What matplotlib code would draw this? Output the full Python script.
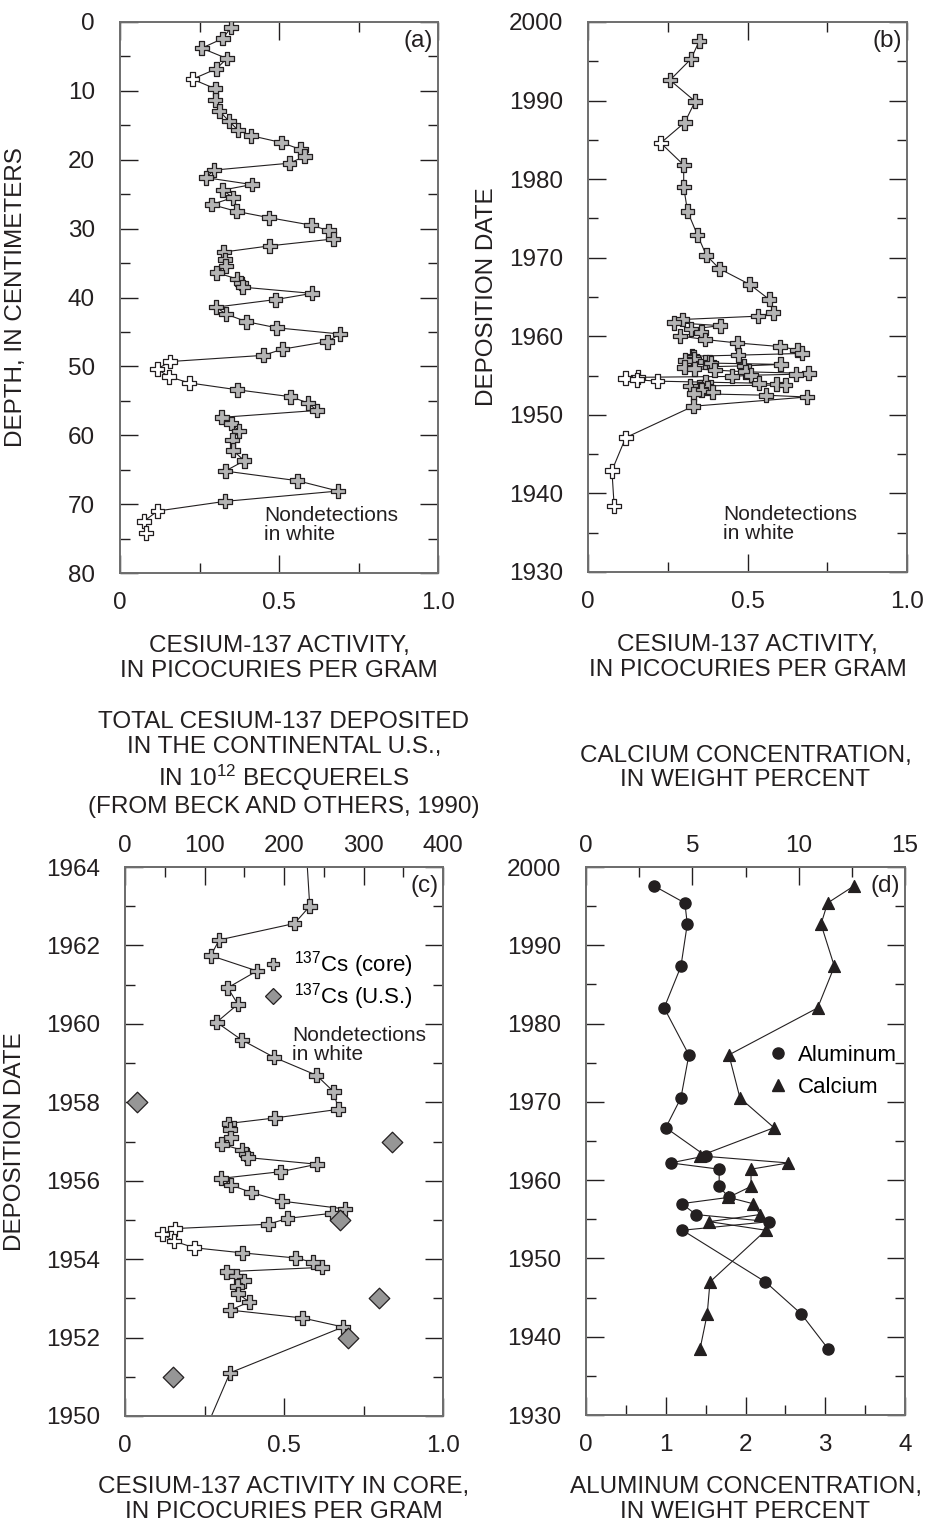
import matplotlib
matplotlib.use('Agg')
import matplotlib.pyplot as plt
from matplotlib.lines import Line2D
from matplotlib.ticker import MultipleLocator
import numpy as np

plt.rcParams['font.family'] = ['Liberation Sans', 'DejaVu Sans']
plt.rcParams['mathtext.fontset'] = 'custom'
plt.rcParams['mathtext.rm'] = 'Liberation Sans'
plt.rcParams['mathtext.it'] = 'Liberation Sans:italic'
plt.rcParams['mathtext.bf'] = 'Liberation Sans:bold'

# ---------------- data ----------------
# Cesium-137 activity in core (pCi/g), one value per sample
cs_activity = [0.349, 0.323, 0.257, 0.336, 0.303, 0.228, 0.300, 0.300, 0.312, 0.343,
               0.371, 0.412, 0.507, 0.568, 0.581, 0.533, 0.296, 0.270, 0.415, 0.323,
               0.355, 0.288, 0.367, 0.468, 0.602, 0.656, 0.671, 0.471, 0.326, 0.330,
               0.332, 0.304, 0.368, 0.381, 0.386, 0.604, 0.489, 0.302, 0.333, 0.397,
               0.493, 0.692, 0.652, 0.511, 0.451, 0.157, 0.117, 0.154, 0.218, 0.369,
               0.536, 0.591, 0.619, 0.320, 0.350, 0.374, 0.353, 0.355, 0.391, 0.331,
               0.558, 0.686, 0.330, 0.118, 0.075, 0.082]
# sample depth (cm)
cs_depth = [0.8, 2.4, 3.8, 5.3, 6.8, 8.3, 9.7, 11.3, 12.9, 14.4,
            15.7, 16.5, 17.5, 18.5, 19.5, 20.5, 21.5, 22.6, 23.6, 24.4,
            25.5, 26.5, 27.5, 28.4, 29.5, 30.3, 31.5, 32.5, 33.4, 34.5,
            35.4, 36.4, 37.3, 37.9, 38.5, 39.4, 40.3, 41.4, 42.4, 43.5,
            44.4, 45.3, 46.4, 47.5, 48.4, 49.3, 50.4, 51.5, 52.4, 53.4,
            54.4, 55.3, 56.4, 57.4, 58.3, 59.4, 60.7, 62.2, 63.7, 65.2,
            66.6, 68.1, 69.6, 71.0, 72.5, 74.2]
# sample deposition date (year)
cs_date = [1997.6, 1995.3, 1992.6, 1989.9, 1987.2, 1984.6, 1981.8, 1979.0, 1975.9, 1972.9,
           1970.3, 1968.6, 1966.6, 1964.7, 1963.0, 1962.56, 1962.14, 1961.74, 1961.35, 1960.92,
           1960.50, 1960.04, 1959.59, 1959.15, 1958.69, 1958.27, 1957.82, 1957.60, 1957.46, 1957.31,
           1957.10, 1956.93, 1956.78, 1956.68, 1956.59, 1956.42, 1956.23, 1956.06, 1955.89, 1955.70,
           1955.48, 1955.28, 1955.17, 1955.04, 1954.89, 1954.78, 1954.64, 1954.46, 1954.29, 1954.16,
           1954.03, 1953.92, 1953.79, 1953.68, 1953.57, 1953.45, 1953.31, 1953.12, 1952.91, 1952.70,
           1952.50, 1952.27, 1951.10, 1947.1, 1942.9, 1938.4]
# nondetection flags (1 = nondetection, drawn white)
cs_nondetect = [0, 0, 0, 0, 0, 1, 0, 0, 0, 0,
                0, 0, 0, 0, 0, 0, 0, 0, 0, 0,
                0, 0, 0, 0, 0, 0, 0, 0, 0, 0,
                0, 0, 0, 0, 0, 0, 0, 0, 0, 0,
                0, 0, 0, 0, 0, 1, 1, 1, 1, 0,
                0, 0, 0, 0, 0, 0, 0, 0, 0, 0,
                0, 0, 0, 1, 1, 1]

# Total Cs-137 deposited in continental U.S. (10^12 Bq), Beck and others, 1990
us_year = [1951, 1952, 1953, 1955, 1957, 1958]
us_deposit = [60, 280, 319, 270, 336, 15]

# Aluminum and calcium concentrations (weight percent)
elem_date = [1997.6, 1995.4, 1992.7, 1987.3, 1982.0, 1976.0, 1970.5, 1966.7, 1963.1, 1962.2,
             1961.4, 1959.2, 1957.8, 1957.0, 1955.6, 1954.7, 1953.6, 1947.0, 1942.9, 1938.4]
aluminum = [0.85, 1.24, 1.27, 1.19, 0.98, 1.29, 1.19, 1.00, 1.50, 1.06,
            1.67, 1.67, 1.79, 1.20, 1.38, 2.30, 1.21, 2.25, 2.70, 3.04]
calcium = [12.61, 11.36, 11.05, 11.68, 10.89, 6.72, 7.24, 8.84, 5.36, 9.51,
           7.76, 7.76, 6.70, 7.84, 8.18, 5.80, 8.46, 5.83, 5.70, 5.36]

# ---------------- style ----------------
INK = '#231f20'
SPINE = '#6e6e6e'
CROSS_FILL = '#b4b4b4'
DIAMOND_FILL = '#969696'
TICK_FS = 17.5
LABEL_FS = 17.5
NOTE_FS = 15
LS = 1.2

W, H = 925, 1528
fig = plt.figure(figsize=(W / 100, H / 100), dpi=100)


def rect(l, t, r, b):
    return [l / W, 1 - b / H, (r - l) / W, (b - t) / H]


ax_a = fig.add_axes(rect(120, 22, 438, 573))
ax_b = fig.add_axes(rect(588, 22, 907, 572))
ax_c = fig.add_axes(rect(125, 867, 443, 1416))
ax_d = fig.add_axes(rect(586, 867, 905, 1415))


def style(ax, top=True, bottom=True):
    ax.tick_params(which='both', direction='in', top=top, bottom=bottom, right=True, left=True,
                   labelsize=TICK_FS, colors=INK, width=1.0)
    ax.tick_params(axis='x', which='both', pad=14)
    ax.tick_params(axis='y', which='both', pad=18)
    ax.tick_params(which='major', length=13)
    ax.tick_params(which='minor', length=7)
    for s in ax.spines.values():
        s.set_color(SPINE)
        s.set_linewidth(1.4)


act = np.array(cs_activity)
nd = np.array(cs_nondetect, dtype=bool)
face = np.where(nd, 'white', CROSS_FILL)


def cs_series(ax, yvals):
    y = np.array(yvals)
    ax.plot(act, y, '-', color=INK, lw=0.8, zorder=2)
    ax.scatter(act, y, marker='P', s=100, c=list(face), edgecolors=INK, linewidths=0.9, zorder=3)


act_ticks = [0, 0.5, 1.0]
act_labels = ['0', '0.5', '1.0']

# ---- (a) depth ----
cs_series(ax_a, cs_depth)
ax_a.set_xlim(0, 1.0)
ax_a.set_ylim(80, 0)
ax_a.set_xticks(act_ticks, act_labels)
ax_a.xaxis.set_minor_locator(MultipleLocator(0.25))
ax_a.yaxis.set_major_locator(MultipleLocator(10))
ax_a.yaxis.set_minor_locator(MultipleLocator(5))
style(ax_a)
ax_a.set_xlabel('CESIUM-137 ACTIVITY,\nIN PICOCURIES PER GRAM', fontsize=LABEL_FS, color=INK, linespacing=LS)
ax_a.set_ylabel('DEPTH, IN CENTIMETERS', fontsize=LABEL_FS, color=INK)
ax_a.text(0.985, 0.985, '(a)', transform=ax_a.transAxes, ha='right', va='top', fontsize=LABEL_FS, color=INK)
ax_a.text(0.453, 0.121, 'Nondetections\nin white', transform=ax_a.transAxes, ha='left', va='top',
          fontsize=NOTE_FS, color=INK, linespacing=1.0)

# ---- (b) date ----
cs_series(ax_b, cs_date)
ax_b.set_xlim(0, 1.0)
ax_b.set_ylim(1930, 2000)
ax_b.set_xticks(act_ticks, act_labels)
ax_b.xaxis.set_minor_locator(MultipleLocator(0.25))
ax_b.yaxis.set_major_locator(MultipleLocator(10))
ax_b.yaxis.set_minor_locator(MultipleLocator(5))
style(ax_b)
ax_b.set_xlabel('CESIUM-137 ACTIVITY,\nIN PICOCURIES PER GRAM', fontsize=LABEL_FS, color=INK, linespacing=LS)
ax_b.set_ylabel('DEPOSITION DATE', fontsize=LABEL_FS, color=INK)
ax_b.text(0.985, 0.985, '(b)', transform=ax_b.transAxes, ha='right', va='top', fontsize=LABEL_FS, color=INK)
ax_b.text(0.424, 0.121, 'Nondetections\nin white', transform=ax_b.transAxes, ha='left', va='top',
          fontsize=NOTE_FS, color=INK, linespacing=1.0)

# ---- (c) zoom 1950-1964 with U.S. deposition ----
cs_series(ax_c, cs_date)
ax_c.set_xlim(0, 1.0)
ax_c.set_ylim(1950, 1964)
ax_c.set_xticks(act_ticks, act_labels)
ax_c.xaxis.set_minor_locator(MultipleLocator(0.25))
ax_c.yaxis.set_major_locator(MultipleLocator(2))
ax_c.yaxis.set_minor_locator(MultipleLocator(1))
style(ax_c, top=False)
ax_c.set_xlabel('CESIUM-137 ACTIVITY IN CORE,\nIN PICOCURIES PER GRAM', fontsize=LABEL_FS, color=INK, linespacing=LS)
ax_c.set_ylabel('DEPOSITION DATE', fontsize=LABEL_FS, color=INK)

ax_c2 = ax_c.twiny()
ax_c2.scatter(us_deposit, us_year, marker='D', s=110, c=DIAMOND_FILL, edgecolors=INK, linewidths=0.9, zorder=4)
ax_c2.set_xlim(0, 400)
ax_c2.set_ylim(1950, 1964)
ax_c2.xaxis.set_major_locator(MultipleLocator(100))
ax_c2.xaxis.set_minor_locator(MultipleLocator(50))
style(ax_c2, top=True, bottom=False)
ax_c2.tick_params(axis='x', which='both', labeltop=True, labelbottom=False, pad=7)
ax_c2.set_xlabel('TOTAL CESIUM-137 DEPOSITED\nIN THE CONTINENTAL U.S.,\nIN 10$^{12}$ BECQUERELS\n(FROM BECK AND OTHERS, 1990)',
                 fontsize=LABEL_FS, color=INK, linespacing=1.2)
ax_c2.text(0.985, 0.985, '(c)', transform=ax_c2.transAxes, ha='right', va='top', fontsize=LABEL_FS, color=INK)
h_core = Line2D([], [], ls='none', marker='P', ms=9, mfc=CROSS_FILL, mec=INK, mew=0.9)
h_us = Line2D([], [], ls='none', marker='D', ms=8, mfc=DIAMOND_FILL, mec=INK, mew=0.9)
ax_c2.legend([h_core, h_us], ['$^{137}$Cs (core)', '$^{137}$Cs (U.S.)'], loc='upper left',
             bbox_to_anchor=(0.432, 0.85), frameon=False, fontsize=NOTE_FS + 1,
             handlelength=1.0, handletextpad=0.43, borderpad=0, borderaxespad=0, labelspacing=0.05)
ax_c2.text(0.525, 0.7105, 'Nondetections\nin white', transform=ax_c2.transAxes, ha='left', va='top',
           fontsize=NOTE_FS, color=INK, linespacing=1.0)

# ---- (d) aluminum & calcium ----
ax_d.plot(aluminum, elem_date, '-', color=INK, lw=0.8, zorder=2)
ax_d.scatter(aluminum, elem_date, marker='o', s=64, c=INK, zorder=3)
ax_d.set_xlim(0, 4)
ax_d.set_ylim(1930, 2000)
ax_d.xaxis.set_major_locator(MultipleLocator(1))
ax_d.xaxis.set_minor_locator(MultipleLocator(0.5))
ax_d.yaxis.set_major_locator(MultipleLocator(10))
ax_d.yaxis.set_minor_locator(MultipleLocator(5))
style(ax_d, top=False)
ax_d.set_xlabel('ALUMINUM CONCENTRATION,\nIN WEIGHT PERCENT', fontsize=LABEL_FS, color=INK, linespacing=LS)

ax_d2 = ax_d.twiny()
ax_d2.plot(calcium, elem_date, '-', color=INK, lw=0.8, zorder=2)
ax_d2.scatter(calcium, elem_date, marker='^', s=72, c=INK, zorder=3)
ax_d2.set_xlim(0, 15)
ax_d2.set_ylim(1930, 2000)
ax_d2.xaxis.set_major_locator(MultipleLocator(5))
ax_d2.xaxis.set_minor_locator(MultipleLocator(2.5))
style(ax_d2, top=True, bottom=False)
ax_d2.tick_params(axis='x', which='both', labeltop=True, labelbottom=False, pad=7)
ax_d2.set_xlabel('CALCIUM CONCENTRATION,\nIN WEIGHT PERCENT', fontsize=LABEL_FS, color=INK, linespacing=1.15)
ax_d2.text(0.985, 0.985, '(d)', transform=ax_d2.transAxes, ha='right', va='top', fontsize=LABEL_FS, color=INK)
h_al = Line2D([], [], ls='none', marker='o', ms=8, mfc=INK, mec=INK)
h_ca = Line2D([], [], ls='none', marker='^', ms=8.5, mfc=INK, mec=INK)
ax_d2.legend([h_al, h_ca], ['Aluminum', 'Calcium'], loc='upper left', bbox_to_anchor=(0.567, 0.676),
             frameon=False, fontsize=NOTE_FS + 1, handlelength=1.0, handletextpad=0.4,
             borderpad=0, borderaxespad=0, labelspacing=0.5)

# ---- label placement (centres, axes fraction) ----
for ax in (ax_a, ax_b, ax_c, ax_d, ax_c2, ax_d2):
    ax.xaxis.label.set_va('center')
    ax.yaxis.label.set_va('center')
ax_a.xaxis.set_label_coords(0.5, -0.155)
ax_b.xaxis.set_label_coords(0.5, -0.155)
ax_c.xaxis.set_label_coords(0.5, -0.152)
ax_d.xaxis.set_label_coords(0.5, -0.1545)
ax_c2.xaxis.set_label_coords(0.5, 1.187)
ax_d2.xaxis.set_label_coords(0.5, 1.181)
ax_a.yaxis.set_label_coords(-0.327, 0.5)
ax_b.yaxis.set_label_coords(-0.3166, 0.5)
ax_c.yaxis.set_label_coords(-0.346, 0.5)

fig.savefig('out.png', dpi=100)
